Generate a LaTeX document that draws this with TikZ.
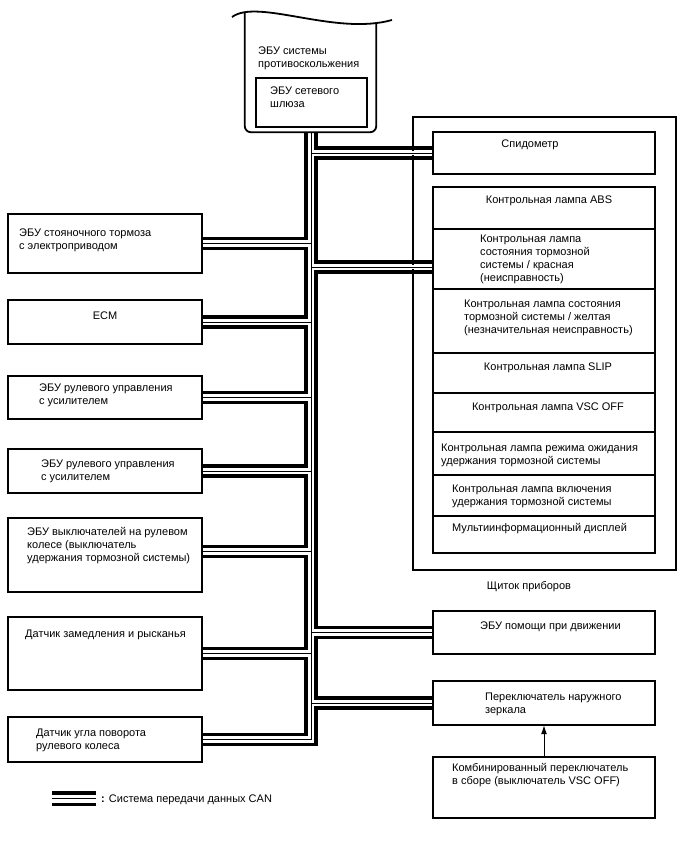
\documentclass[tikz,border=0pt]{standalone}
\usepackage{fontspec}
\setmainfont{Liberation Sans}
\usetikzlibrary{calc,arrows.meta}
\newcommand{\lloop}[2]{\draw[bus] ($(#1)+(0,5)$) -- ($(#1 -| L)+(0,5)$) -- ($(#2 -| L)+(0,-5)$) -- ($(#2)+(0,-5)$);}
\newcommand{\rloop}[2]{\draw[bus] ($(#1)+(0,5)$) -- ($(#1 -| R)+(0,5)$) -- ($(#2 -| R)+(0,-5)$) -- ($(#2)+(0,-5)$);}
\begin{document}
\begin{tikzpicture}[x=1pt,y=-1pt,
  font=\fontsize{11}{13}\selectfont,
  box/.style={draw,line width=1.5pt,inner sep=0pt},
  bus/.style={line width=3.5pt,line join=miter},
  halo/.style={white,line width=4.5pt},
  wire/.style={black,line width=1pt},
  lbl/.style={anchor=base west,inner sep=0pt,align=left},
  clbl/.style={anchor=base,inner sep=0pt,align=center}]
\path[use as bounding box,fill=white] (0,0) rectangle (688,852);

% reference coordinates of the bus
\coordinate (L) at (306,0);
\coordinate (T) at (311,0);
\coordinate (R) at (316,0);

% ECU outline node
\node[inner sep=0pt,minimum width=131pt,minimum height=120pt] (ecu) at (310.5,72) {};

% instrument panel frame
\node[box,minimum width=263pt,minimum height=453pt] (panel) at (544.5,343.5) {};

% box geometry (drawn later on top)
\path
  (105,243.5) node[inner sep=0pt,minimum width=194pt,minimum height=59pt] (epb) {}
  (105,322)   node[inner sep=0pt,minimum width=194pt,minimum height=44pt] (ecm) {}
  (105,397.5) node[inner sep=0pt,minimum width=194pt,minimum height=43pt] (eps1) {}
  (105,471)   node[inner sep=0pt,minimum width=194pt,minimum height=44pt] (eps2) {}
  (105,555)   node[inner sep=0pt,minimum width=194pt,minimum height=74pt] (swc) {}
  (105,653.5) node[inner sep=0pt,minimum width=194pt,minimum height=73pt] (yaw) {}
  (105,739.5) node[inner sep=0pt,minimum width=194pt,minimum height=45pt] (sas) {}
  (544,153)   node[inner sep=0pt,minimum width=222pt,minimum height=42pt] (spd) {}
  (544,208)   node[inner sep=0pt,minimum width=222pt,minimum height=42pt] (abs) {}
  (544,259)   node[inner sep=0pt,minimum width=222pt,minimum height=60pt] (red) {}
  (544,321)   node[inner sep=0pt,minimum width=222pt,minimum height=64pt] (yel) {}
  (544,373)   node[inner sep=0pt,minimum width=222pt,minimum height=40pt] (slip) {}
  (544,412.5) node[inner sep=0pt,minimum width=222pt,minimum height=39pt] (vsc) {}
  (544,453.5) node[inner sep=0pt,minimum width=222pt,minimum height=43pt] (stby) {}
  (544,495.5) node[inner sep=0pt,minimum width=222pt,minimum height=41pt] (hold) {}
  (544,534.5) node[inner sep=0pt,minimum width=222pt,minimum height=37pt] (mid) {}
  (544,632.5) node[inner sep=0pt,minimum width=222pt,minimum height=43pt] (dss) {}
  (544,703)   node[inner sep=0pt,minimum width=222pt,minimum height=44pt] (mir) {}
  (544,787.5) node[inner sep=0pt,minimum width=222pt,minimum height=61pt] (cmb) {};

% bus ports
\coordinate (pEPB) at (epb.east);
\coordinate (pECM) at (ecm.east);
\coordinate (pEPS1) at (eps1.east);
\coordinate (pEPS2) at (eps2.east);
\coordinate (pSWC) at ($(swc.east)+(0,-3.5)$);
\coordinate (pYAW) at (yaw.east);
\coordinate (pSAS) at (sas.east);
\coordinate (pSPD) at (spd.west);
\coordinate (pGRP) at ($(red.west)+(0,8)$);
\coordinate (pDSS) at (dss.west);
\coordinate (pMIR) at (mir.west);

% thick ring
\draw[bus] (ecu.south -| L) -- ($(pEPB -| L)+(0,-5)$) -- ($(pEPB)+(0,-5)$);
\lloop{pEPB}{pECM}
\lloop{pECM}{pEPS1}
\lloop{pEPS1}{pEPS2}
\lloop{pEPS2}{pSWC}
\lloop{pSWC}{pYAW}
\lloop{pYAW}{pSAS}
\draw[bus] ($(pSAS)+(0,5)$) -- ($(pSAS -| R)+(0,5)$) -- ($(pMIR -| R)+(0,5)$) -- ($(pMIR)+(0,5)$);
\draw[bus] (ecu.south -| R) -- ($(pSPD -| R)+(0,-5)$) -- ($(pSPD)+(0,-5)$);
\rloop{pSPD}{pGRP}
\rloop{pGRP}{pDSS}
\rloop{pDSS}{pMIR}

% thin trunk with branches
\foreach \st in {halo,wire}{
  \draw[\st] (ecu.south -| T) -- (pSAS -| T) -- (pSAS);
  \foreach \p in {pEPB,pECM,pEPS1,pEPS2,pSWC,pYAW,pSPD,pGRP,pDSS,pMIR}
    \draw[\st] (\p -| T) -- (\p);
}

% ECU with wavy top
\draw[line width=1.8pt] (232,17) .. controls (258,-2) and (335,36) .. (392,20);
\draw[line width=1.8pt,rounded corners=6pt] (ecu.north west) -- (ecu.south west) -- (ecu.south east) -- ($(ecu.north east)+(0,10.4)$);
\node[box,line width=1.8pt,minimum width=111pt,minimum height=49pt] (gw) at (311.5,102.5) {};

% boxes
\foreach \b in {epb,ecm,eps1,eps2,swc,yaw,sas,spd,abs,red,yel,slip,vsc,stby,hold,mid,dss,mir,cmb}
  \draw[line width=1.5pt] (\b.north west) rectangle (\b.south east);

% arrow
\draw[line width=1pt,-{Latex[length=9pt,width=6pt]}] (cmb.north) -- (mir.south);

% texts (base anchor of a multi-line node is its last line)
\node[lbl] (tecu) at (258,67) {ЭБУ системы\\противоскольжения};
\node[lbl] (tgw) at (270,107.5) {ЭБУ сетевого\\шлюза};
\node[lbl] (tepb) at (19,249) {ЭБУ стояночного тормоза\\с электроприводом};
\node[clbl] (tecm) at (105,319.5) {ECM};
\node[lbl] (teps1) at (39,404) {ЭБУ рулевого управления\\с усилителем};
\node[lbl] (teps2) at (41,480.5) {ЭБУ рулевого управления\\с усилителем};
\node[lbl] (tswc) at (27,561) {ЭБУ выключателей на рулевом\\колесе (выключатель\\удержания тормозной системы)};
\node[lbl] (tyaw) at (25,637.5) {Датчик замедления и рысканья};
\node[lbl] (tsas) at (36,749) {Датчик угла поворота\\рулевого колеса};
\node[clbl] (tspd) at (530,147.5) {Спидометр};
\node[clbl] (tabs) at (549,203.5) {Контрольная лампа ABS};
\node[lbl] (tred) at (480,281.5) {Контрольная лампа\\состояния тормозной\\системы / красная\\(неисправность)};
\node[lbl] (tyel) at (464,333.5) {Контрольная лампа состояния\\тормозной системы / желтая\\(незначительная неисправность)};
\node[clbl] (tslip) at (548,370) {Контрольная лампа SLIP};
\node[clbl] (tvsc) at (548,410) {Контрольная лампа VSC OFF};
\node[lbl] (tstby) at (441,464) {Контрольная лампа режима ожидания\\удержания тормозной системы};
\node[lbl] (thold) at (452,505.5) {Контрольная лампа включения\\удержания тормозной системы};
\node[lbl] (tmid) at (452,531.5) {Мультиинформационный дисплей};
\node[clbl] (tpanel) at (529,589.5) {Щиток приборов};
\node[lbl] (tdss) at (480,629.5) {ЭБУ помощи при движении};
\node[lbl] (tmir) at (485,713.5) {Переключатель наружного\\зеркала};
\node[lbl] (tcmb) at (452,784.5) {Комбинированный переключатель\\в сборе (выключатель VSC OFF)};

% legend
\draw[line width=3.3pt] (52,793) -- (96,793);
\draw[line width=1.5pt] (52,798.5) -- (96,798.5);
\draw[line width=3pt] (52,804) -- (96,804);
\node[lbl] (tleg) at (101,802) {\textbf{:} Система передачи данных CAN};
\end{tikzpicture}
\end{document}
